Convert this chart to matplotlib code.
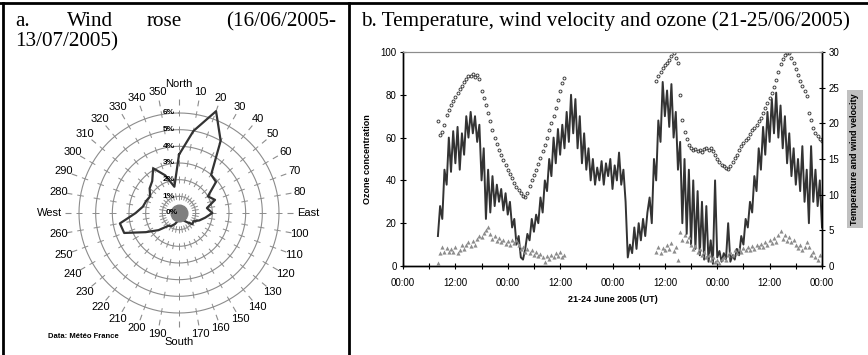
import numpy as np
import matplotlib
matplotlib.use("Agg")
import matplotlib.pyplot as plt
from matplotlib.lines import Line2D

plt.rcParams["font.family"] = ["Liberation Sans", "DejaVu Sans"]

# ---- wind rose (direction in degrees, frequency in %) ----
rose_dirs = list(range(0, 360, 10))
rose_freq = [3.5, 5.0, 6.5, 5.0, 3.0, 2.9, 2.0, 2.3, 1.7, 2.0,
             1.6, 1.3, 1.0, 1.05, 0.7, 0.5, 0.3, 0.2, 0.3, 0.5,
             0.7, 0.9, 1.0, 1.6, 2.3, 3.5, 3.6, 2.6, 2.2, 2.1,
             2.0, 2.3, 2.5, 3.1, 2.4, 1.6]
rose_rings = [1, 2, 3, 4, 5, 6]
compass = {0: "North", 90: "East", 180: "South", 270: "West"}

# ---- time series, hours since 21 June 2005 00:00 UT, half-hour steps ----
ozone = [
    14, 28, 22, 45, 38, 60, 44, 63,      # 8.0 - 11.5
    48, 65, 45, 62, 52, 70, 60, 72,      # 12.0 - 15.5
    62, 70, 58, 66, 40, 55, 22, 45,      # 16.0 - 19.5
    25, 42, 28, 38, 30, 36, 26, 34,      # 20.0 - 23.5
    24, 30, 18, 22, 10, 14, 4, 3,        # 24.0 - 27.5
    8, 15, 12, 22, 16, 24, 20, 32,       # 28.0 - 31.5
    25, 40, 35, 50, 42, 60, 48, 64,      # 32.0 - 35.5
    52, 66, 55, 72, 58, 80, 62, 78,      # 36.0 - 39.5
    55, 70, 48, 62, 45, 55, 40, 50,      # 40.0 - 43.5
    38, 46, 40, 49, 38, 48, 42, 50,      # 44.0 - 47.5
    36, 47, 40, 53, 38, 45, 30, 4,       # 48.0 - 51.5
    10, 6, 18, 8, 20, 12, 22, 14,        # 52.0 - 55.5
    25, 32, 20, 50, 40, 68, 58, 86,      # 56.0 - 59.5
    70, 82, 65, 85, 60, 72, 45, 58,      # 60.0 - 63.5
    20, 50, 15, 45, 10, 40, 8, 35,       # 64.0 - 67.5
    5, 30, 3, 28, 2, 12, 1, 40,          # 68.0 - 71.5
    4, 7, 2, 6, 3, 20, 2, 5,             # 72.0 - 75.5
    3, 8, 5, 14, 10, 22, 18, 30,         # 76.0 - 79.5
    25, 42, 35, 55, 45, 65, 52, 72,      # 80.0 - 83.5
    58, 78, 62, 81, 60, 75, 55, 70,      # 84.0 - 87.5
    48, 62, 42, 55, 38, 50, 35, 56,      # 88.0 - 91.5
    30, 45, 20, 56, 30, 45, 28, 40,      # 92.0 - 95.5
    18,                                  # 96.0
]
ozone_start = 8.0

temp_day1 = [
    20.3, 18.3, 18.8, 19.8, 21.2, 21.8, 22.5, 23.1,
    23.7, 24.2, 24.8, 25.3, 25.8, 26.2, 26.6, 26.7,
    26.9, 26.5, 26.8, 26.2, 24.6, 23.5, 22.5, 21.4,
    20.3, 19.1, 18.0, 17.1, 16.3, 15.5, 14.8, 14.1,
    13.5, 12.9, 12.3, 11.7, 11.1, 10.6, 10.2, 9.8,
    9.7, 10.3, 11.2, 12.0, 12.8, 13.5, 14.3, 15.2,
    16.1, 17.0, 18.0, 19.0, 20.0, 21.0, 22.1, 23.3,
    24.5, 25.6, 26.4,
]
temp_day3 = [
    26.0, 26.6, 27.2, 27.8, 28.2, 28.5, 28.9, 29.4,
    29.8, 29.2, 28.4, 24.0, 20.5, 18.8, 17.8, 17.0,
    16.5, 16.2, 16.4, 16.1, 16.3, 16.0, 16.4, 16.6,
    16.2, 16.5, 16.1, 15.6, 15.0, 14.6, 14.2, 14.0,
    13.8, 13.6, 14.0, 14.6, 15.2, 15.6, 16.3, 16.8,
    17.2, 17.6, 18.0, 18.5, 19.0, 19.4, 19.8, 20.3,
    20.8, 21.4, 22.1, 22.8, 23.6, 24.3, 25.1, 26.1,
    27.2, 28.3, 29.0, 29.6, 29.9, 29.8, 29.2, 28.4,
    27.6, 26.8, 26.0, 25.2, 24.6, 23.8, 21.5, 20.4,
    19.4, 18.6, 18.2, 17.8, 17.5,
]
wind_day1 = [
    0.4, 1.8, 2.6, 2.0, 2.5, 1.9, 2.4, 2.0,
    2.6, 1.8, 2.3, 2.9, 2.4, 3.0, 3.3, 2.8,
    3.5, 3.0, 3.8, 4.2, 4.0, 4.6, 5.0, 5.4,
    4.5, 3.8, 4.2, 3.5, 3.9, 3.3, 3.6, 3.1,
    3.5, 3.0, 3.6, 3.2, 3.7, 2.9, 2.4, 2.7,
    2.0, 2.4, 1.8, 2.2, 1.5, 1.9, 1.4, 1.7,
    1.2, 0.6, 1.4, 1.0, 1.6, 1.2, 1.8, 1.4,
    1.9, 1.3, 1.6,
]
wind_day3 = [
    2.0, 2.6, 1.8, 2.5, 2.2, 3.0, 2.4, 3.2,
    2.1, 2.6, 0.8, 4.8, 3.6, 4.3, 3.5, 4.0,
    3.0, 2.4, 2.8, 2.0, 2.4, 1.6, 2.0, 1.2,
    1.6, 0.8, 1.3, 0.5, 0.9, 0.4, 1.0, 1.3,
    0.9, 1.5, 1.9, 1.6, 2.2, 1.8, 2.4, 2.0,
    2.5, 2.2, 2.7, 2.3, 2.8, 2.4, 3.0, 2.6,
    3.1, 2.7, 3.3, 2.9, 3.6, 3.2, 3.9, 3.4,
    4.4, 4.9, 3.8, 4.3, 3.5, 4.0, 3.3, 3.7,
    2.9, 2.5, 3.0, 2.2, 2.7, 3.4, 2.6, 1.5,
    2.0, 1.2, 0.8, 1.6, 0.3,
]
met_start_day1 = 8.0
met_start_day3 = 58.0
step_h = 0.5

x_ticks_h = list(range(0, 97, 12))
x_tick_labels = ["00:00", "12:00"] * 4 + ["00:00"]

W, H = 868, 355
fig = plt.figure(figsize=(W / 100, H / 100), dpi=100)


def fx(px):
    return px / W


def fy(py):
    return 1 - py / H


# table frame
frame_kw = dict(color="black", lw=2.0, transform=fig.transFigure)
fig.add_artist(Line2D([0, 1], [fy(3), fy(3)], **frame_kw))
fig.add_artist(Line2D([fx(3), fx(3)], [0, fy(3)], **frame_kw))
fig.add_artist(Line2D([fx(348.5), fx(348.5)], [0, fy(3)], **frame_kw))

# panel titles (justified first line on the left)
serif = ["Liberation Serif", "DejaVu Serif"]
tkw = dict(family=serif, fontsize=15.2, va="baseline", ha="left")
for word, px in [("a.", 15), ("Wind", 67), ("rose", 147), ("(16/06/2005-", 226)]:
    fig.text(fx(px), fy(26), word, **tkw)
fig.text(fx(15), fy(46), "13/07/2005)", **tkw)
fig.text(fx(361), fy(26), "b. Temperature, wind velocity and ozone (21-25/06/2005)", **tkw)

# ---------------- wind rose ----------------
cx, cy, r6 = 179, 213, 100
axr = fig.add_axes([fx(cx - r6), fy(cy + r6), r6 * 2 / W, r6 * 2 / H], projection="polar")
axr.set_theta_zero_location("N")
axr.set_theta_direction(-1)
axr.set_ylim(0, 6)
axr.set_xticks([])
axr.set_yticks([])
axr.spines["polar"].set_visible(False)
axr.grid(False)
axr.patch.set_alpha(0)

theta = np.deg2rad(rose_dirs)
for k in rose_rings:
    axr.plot(np.linspace(0, 2 * np.pi, 361), [k] * 361, color="#8c8c8c", lw=0.8, zorder=1,
             clip_on=False)
    axr.vlines(theta, k - 0.2, k + 0.2, color="#8c8c8c", lw=0.7, zorder=1, clip_on=False)
    axr.annotate(f"{k}%", (0, k), xytext=(-3, 0), textcoords="offset points",
                 ha="right", va="center", fontsize=6, fontweight="bold", zorder=4)
axr.annotate("0%", (0, 0), xytext=(-1, 0), textcoords="offset points",
             ha="right", va="center", fontsize=6, fontweight="bold", zorder=4)
axr.vlines(theta, 6.5, 6.85, color="#8c8c8c", lw=0.8, clip_on=False)
for d, t in zip(rose_dirs, theta):
    if d in compass:
        axr.text(t, 7.75, compass[d], ha="center", va="center", fontsize=8, clip_on=False)
    else:
        axr.text(t, 7.35, str(d), ha="center", va="center", fontsize=8, clip_on=False)

axr.plot(np.append(theta, theta[0]), rose_freq + rose_freq[:1], color="#333333", lw=1.6,
         zorder=3, clip_on=False)
axr.plot([0], [0], "o", ms=12, color="#7f7f7f", zorder=3)
fig.text(fx(48), fy(337), "Data: Météo France", fontsize=5.5, fontweight="bold", va="center")

# ---------------- time series ----------------
ax = fig.add_axes([fx(403), fy(266), (822 - 403) / W, (266 - 52) / H])
ax2 = ax.twinx()

oz_h = ozone_start + step_h * np.arange(len(ozone))
t1_h = met_start_day1 + step_h * np.arange(len(temp_day1))
t3_h = met_start_day3 + step_h * np.arange(len(temp_day3))

ax.plot(oz_h, ozone, color="#333333", lw=1.4, zorder=2)
ax2.plot(t1_h, temp_day1, ls="none", marker="o", ms=2.1, mfc="none", mec="#404040", mew=0.7)
ax2.plot(t3_h, temp_day3, ls="none", marker="o", ms=2.1, mfc="none", mec="#404040", mew=0.7)
ax2.plot(t1_h, wind_day1, ls="none", marker="^", ms=3.0, color="#8c8c8c", mew=0)
ax2.plot(t3_h, wind_day3, ls="none", marker="^", ms=3.0, color="#8c8c8c", mew=0)

ax.set_xlim(0, 96)
ax.set_ylim(0, 100)
ax2.set_ylim(0, 30)
ax.set_xticks(x_ticks_h)
ax.set_xticklabels(x_tick_labels)
ax.set_xticks(range(6, 96, 12), minor=True)
ax.set_yticks(range(0, 101, 20))
ax2.set_yticks(range(0, 31, 5))

for a in (ax, ax2):
    a.tick_params(which="both", direction="inout", length=5, width=0.8, labelsize=7, pad=2)
    for s in ("left", "right", "bottom"):
        a.spines[s].set_linewidth(1.0)
    a.spines["top"].set_color("#8c8c8c")
    a.spines["top"].set_linewidth(0.8)
ax.tick_params(axis="x", pad=6)

ax.set_ylabel("Ozone concentration", fontsize=6.5, fontweight="bold", labelpad=6)
ax.set_xlabel("21-24 June 2005 (UT)", fontsize=6.5, fontweight="bold", labelpad=5)
ax2.set_ylabel("Temperature and wind velocity", fontsize=6.5, fontweight="bold", labelpad=8,
               bbox=dict(facecolor="#c0c0c0", edgecolor="none", pad=2.5))

fig.savefig("out.png", dpi=100)
